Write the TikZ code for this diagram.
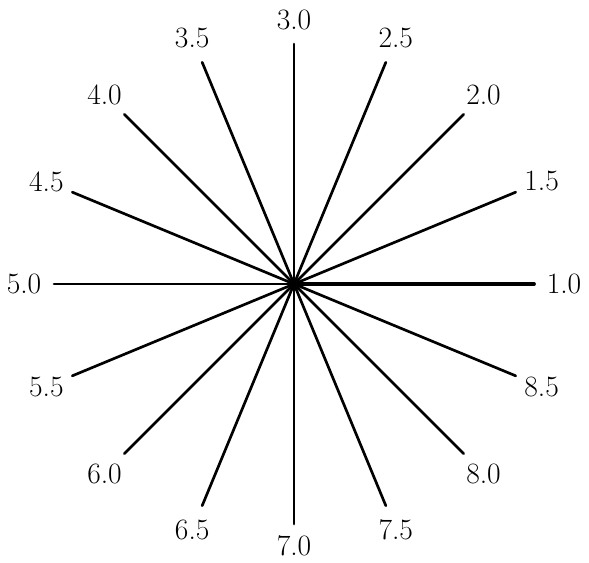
\documentclass[tikz,border=0pt]{standalone}
\usepackage{tikz}
\usetikzlibrary{calc}

\begin{document}
\begin{tikzpicture}[
  spoke/.style={line width=1.9pt, line cap=round},
  heavyspoke/.style={spoke, line width=2.7pt},
  tick/.style={inner sep=0pt, font=\fontsize{21}{25}\selectfont},
]
\useasboundingbox (-7.35,-6.95) rectangle (7.375,7.1);

%% --- hub ---
\coordinate (hub) at (0,0);

%% --- spokes and their values ---
\foreach \val/\ang/\rad [count=\i] in {1.0/0/6.75, 1.5/22.5/6.7, 2.0/45/6.7,
    2.5/67.5/6.65, 3.0/90/6.6, 3.5/112.5/6.65, 4.0/135/6.7, 4.5/157.5/6.7,
    5.0/180/6.75, 5.5/202.5/6.7, 6.0/225/6.7, 6.5/247.5/6.65, 7.0/270/6.55,
    7.5/292.5/6.65, 8.0/315/6.7, 8.5/337.5/6.7} {
  \coordinate (end\i) at (\ang:6);
  \node[tick] (val\i) at (\ang:\rad) {\val};
  \draw[spoke] (hub) -- (end\i);
}
\draw[heavyspoke] (hub) -- (end1);

\end{tikzpicture}
\end{document}
